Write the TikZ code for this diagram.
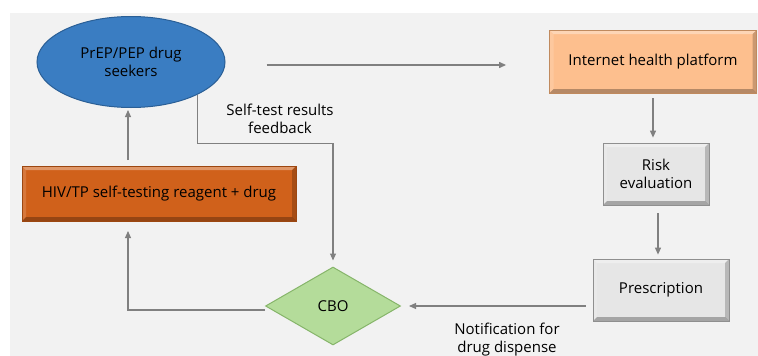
\documentclass[tikz,border=0pt]{standalone}
\usepackage{fontspec}
\setmainfont{Open Sans}
\usetikzlibrary{shapes.geometric,arrows.meta,calc}
\definecolor{panel}{HTML}{F2F2F2}
\definecolor{seekfill}{HTML}{3A7DC2}
\definecolor{seekdraw}{HTML}{2A5F96}
\definecolor{hivfill}{HTML}{D0611B}
\definecolor{hivdraw}{HTML}{9C4711}
\definecolor{iphfill}{HTML}{FDBF8E}
\definecolor{iphdraw}{HTML}{C08A5E}
\definecolor{grayfill}{HTML}{E6E6E6}
\definecolor{graydraw}{HTML}{8F8F8F}
\definecolor{cbofill}{HTML}{B4DC9A}
\definecolor{cbodraw}{HTML}{86B56A}
\definecolor{arrcol}{HTML}{808080}
\tikzset{
  txt/.style={font=\fontsize{15}{18}\selectfont, text=black, align=center, inner sep=0pt},
  bevel/.style={path picture={
    \coordinate (pnw) at (path picture bounding box.north west);
    \coordinate (pne) at (path picture bounding box.north east);
    \coordinate (psw) at (path picture bounding box.south west);
    \coordinate (pse) at (path picture bounding box.south east);
    \fill[white,opacity=0.35] (pnw) -- (pne) -- ([xshift=-4pt,yshift=-4pt]pne) -- ([xshift=4pt,yshift=-4pt]pnw) -- cycle;
    \fill[white,opacity=0.15] (pnw) -- ([xshift=4pt,yshift=-4pt]pnw) -- ([xshift=4pt,yshift=4pt]psw) -- (psw) -- cycle;
    \fill[black,opacity=0.2] (pse) -- (pne) -- ([xshift=-4pt,yshift=-4pt]pne) -- ([xshift=-4pt,yshift=4pt]pse) -- cycle;
    \fill[black,opacity=0.28] (psw) -- (pse) -- ([xshift=-4pt,yshift=4pt]pse) -- ([xshift=4pt,yshift=4pt]psw) -- cycle;
  }},
  boxnode/.style={txt, rectangle, line width=0.8pt, bevel},
  arr/.style={draw=arrcol, line width=1.1pt, -{Triangle[length=7pt,width=6pt]}},
  lab/.style={txt}
}
\begin{document}
\begin{tikzpicture}[x=1pt,y=-1pt]
\useasboundingbox (0,0) rectangle (758,356);
\fill[white] (0,0) rectangle (758,356);
\fill[panel] (10,13) rectangle (758,356);

\node[txt, ellipse, fill=seekfill, draw=seekdraw, line width=1pt, minimum width=188pt, minimum height=91pt] (seekers) at (131,62) {PrEP/PEP drug\\seekers};
\node[boxnode, fill=iphfill, draw=iphdraw, minimum width=207pt, minimum height=63pt] (iphp) at (653,61.5) {Internet health platform};
\node[boxnode, fill=grayfill, draw=graydraw, minimum width=106pt, minimum height=62pt] (risk) at (656,174) {Risk\\evaluation};
\node[boxnode, fill=grayfill, draw=graydraw, minimum width=136pt, minimum height=62pt] (presc) at (661,290) {Prescription};
\node[txt, diamond, fill=cbofill, draw=cbodraw, line width=1pt, minimum width=135pt, minimum height=78pt] (cbo) at (333,306) {CBO};
\node[boxnode, fill=hivfill, draw=hivdraw, minimum width=274pt, minimum height=55pt] (hiv) at (159,193.5) {HIV/TP self-testing reagent + drug};

\coordinate (hivin) at (128,221);
\coordinate (seekin) at (128,110);
\coordinate (hivout) at (128,160);

% seekers -> internet platform
\draw[arr, shorten <=41pt, shorten >=43pt] ([yshift=-3pt]seekers.east) -- ([yshift=-3pt]seekers.east -| iphp.west);
% platform -> risk
\draw[arr, shorten <=5pt, shorten >=5pt] (iphp.south) -- (iphp.south |- risk.north);
% risk -> prescription
\draw[arr, shorten <=8pt, shorten >=4pt] ([xshift=2pt]risk.south) -- ([xshift=2pt]risk.south |- presc.north);
% prescription -> CBO
\draw[arr, shorten <=7pt, shorten >=8pt] (presc.west |- cbo.east) -- (cbo.east);
% CBO -> HIV box
\draw[arr, shorten >=10pt] ([yshift=-4pt]cbo.west) -| (hivin);
% HIV box -> seekers
\draw[arr] (hivout) -- (seekin);
% self-test feedback
\draw[arr, shorten >=6pt] (seekers.-26) -- ++(0,49) -| (cbo.north);

\node[lab] (fb) at (280,119) {Self-test results\\feedback};
\node[lab] (nt) at (507,340) {Notification for\\drug dispense};
\end{tikzpicture}
\end{document}
